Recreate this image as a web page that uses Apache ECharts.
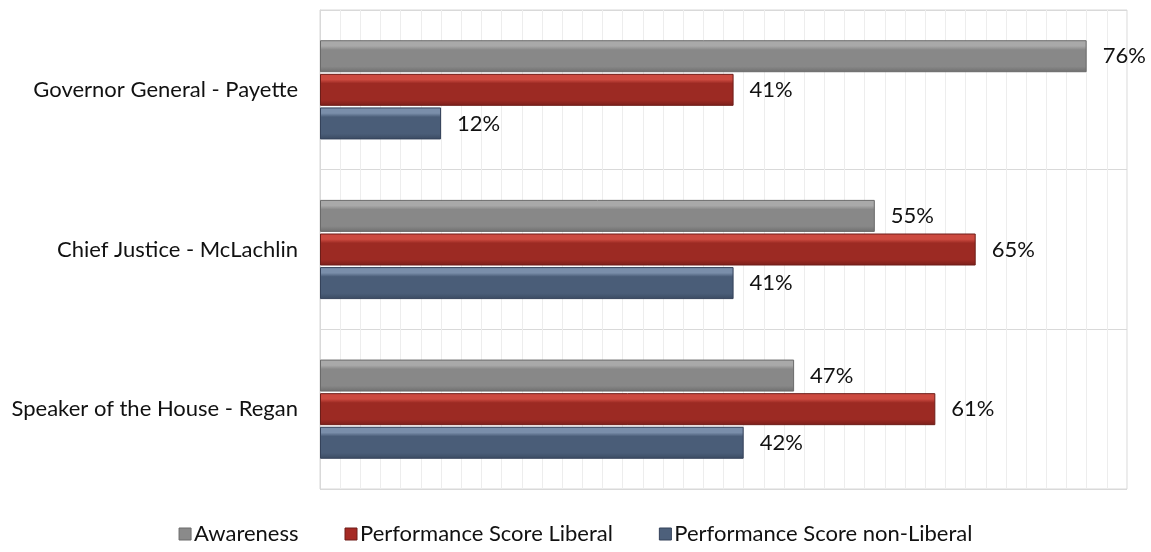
<!DOCTYPE html>
<html>
<head>
<meta charset="utf-8">
<script src="https://cdn.jsdelivr.net/npm/echarts@6/dist/echarts.min.js"></script>
<style>
html,body{margin:0;padding:0;background:#fff;}
#chart{width:1151px;height:552px;}
</style>
</head>
<body>
<div id="chart"></div>
<script>
const categories = ['Governor General - Payette', 'Chief Justice - McLachlin', 'Speaker of the House - Regan'];
const seriesNames = ['Awareness', 'Performance Score Liberal', 'Performance Score non-Liberal'];
const awareness = [76, 55, 47];
const perfLiberal = [41, 65, 61];
const perfNonLiberal = [12, 41, 42];

const FONT = 'Lato';
function grad(light, main, dark) {
  return new echarts.graphic.LinearGradient(0, 0, 0, 1, [
    {offset: 0, color: light},
    {offset: 0.18, color: light},
    {offset: 0.3, color: main},
    {offset: 0.82, color: main},
    {offset: 1, color: dark}
  ]);
}
const styles = [
  {color: grad('#a9a9a9', '#888888', '#6e6e6e'), border: '#6a6a6a', legend: '#8a8a8a'},
  {color: grad('#cc4a40', '#9c2a23', '#7a1f1a'), border: '#6e1d18', legend: '#a52a24'},
  {color: grad('#7a8eaa', '#4a5d78', '#3a4a61'), border: '#34425a', legend: '#4d607b'}
];
const values = [awareness, perfLiberal, perfNonLiberal];

const chart = echarts.init(document.getElementById('chart'), null, {renderer: 'canvas'});
chart.setOption({
  animation: false,
  backgroundColor: '#fff',
  textStyle: {fontFamily: FONT},
  grid: {left: 320, right: 24, top: 10, bottom: 63, show: true, borderColor: '#d9d9d9', borderWidth: 1},
  xAxis: {
    type: 'value', min: 0, max: 80, interval: 2,
    axisLabel: {show: false}, axisTick: {show: false}, axisLine: {show: false},
    splitLine: {show: true, lineStyle: {color: '#ededed', width: 1}}
  },
  yAxis: {
    type: 'category', data: categories, inverse: true,
    axisLine: {show: true, lineStyle: {color: '#d9d9d9'}},
    axisTick: {show: false},
    splitLine: {show: true, lineStyle: {color: '#d9d9d9', width: 1}},
    axisLabel: {fontFamily: FONT, fontSize: 22, color: '#111', margin: 22}
  },
  legend: {
    bottom: 2, left: 'center', icon: 'rect', itemWidth: 12, itemHeight: 12, itemGap: 46,
    textStyle: {fontFamily: FONT, fontSize: 22, color: '#111', padding: [0, 0, 0, -2]},
    data: seriesNames.map((n, i) => ({name: n, itemStyle: {color: styles[i].legend, borderColor: styles[i].border, borderWidth: 1}}))
  },
  series: seriesNames.map((n, i) => ({
    name: n, type: 'bar', data: values[i], barWidth: 32, barGap: '5%',
    itemStyle: {color: styles[i].color, borderColor: styles[i].border, borderWidth: 1},
    label: {show: true, position: 'right', distance: 16, formatter: '{c}%', fontFamily: FONT, fontSize: 22, color: '#111'}
  }))
});
</script>
</body>
</html>
